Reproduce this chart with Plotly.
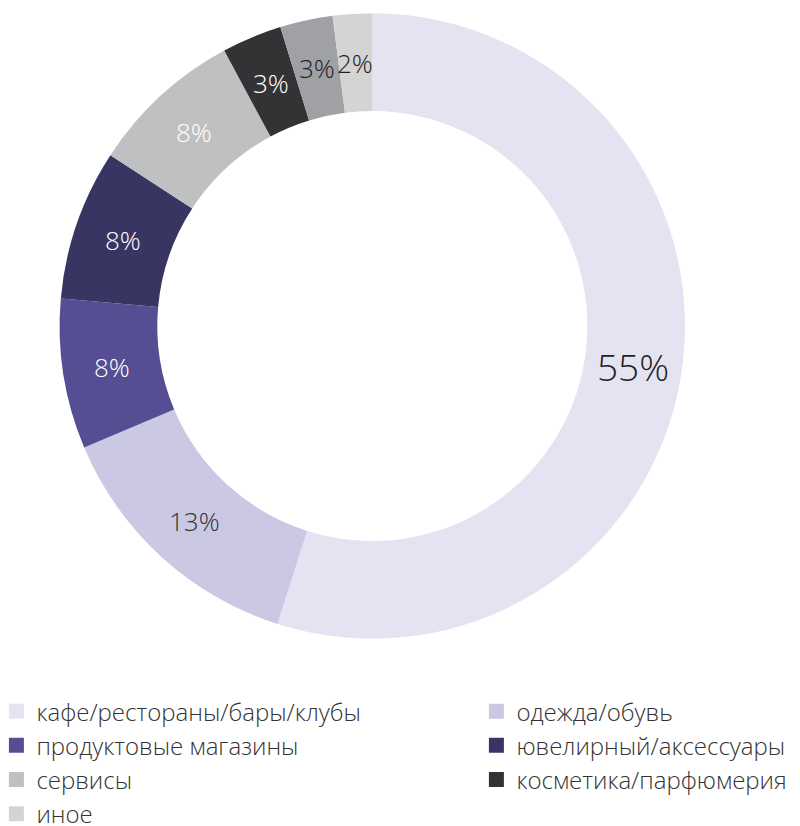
import math
import plotly.graph_objects as go

slice_labels = ["кафе/рестораны/бары/клубы", "одежда/обувь", "продуктовые магазины",
                "ювелирный/аксессуары", "сервисы", "косметика/парфюмерия", "прочее", "иное"]
slice_values = [54.9, 13.75, 7.75, 7.8, 7.95, 3.1, 2.72, 2.03]
slice_text = ["55%", "13%", "8%", "8%", "8%", "3%", "3%", "2%"]
slice_colors = ["#e4e3f1", "#cbc8e4", "#554e93", "#383563", "#bfc0c2", "#333335", "#9fa1a5", "#d3d4d3"]
text_colors = ["#222222", "#333333", "#ffffff", "#ffffff", "#ffffff", "#ffffff", "#222222", "#222222"]
text_sizes = [37, 26, 26, 26, 26, 26, 26, 26]

# legend entries (the unlabeled gray slice is not listed)
legend_left = [0, 2, 4, 7]
legend_right = [1, 3, 5]

FONT = "Open Sans"
W, H = 800, 826
CX, CY, R, HOLE = 372.3, 326.0, 312.7, 0.6876   # donut geometry in pixels

fig = go.Figure()
fig.add_trace(go.Pie(
    labels=slice_labels,
    values=slice_values,
    textinfo="none",
    marker=dict(colors=slice_colors, line=dict(width=0)),
    hole=HOLE,
    sort=False,
    direction="clockwise",
    rotation=0,
    showlegend=False,
    domain=dict(x=[(CX - R) / W, (CX + R) / W], y=[1 - (CY + R) / H, 1 - (CY - R) / H]),
    hoverinfo="label+percent",
))

# slice labels at the middle of the ring, on each slice's bisector
total = sum(slice_values)
r_mid = R * (1 + HOLE) / 2
anns = []
cum = 0
for v, t, c, s in zip(slice_values, slice_text, text_colors, text_sizes):
    theta = 2 * math.pi * (cum + v / 2) / total
    cum += v
    anns.append(dict(
        xref="paper", yref="paper",
        x=(CX + r_mid * math.sin(theta)) / W,
        y=1 - (CY - r_mid * math.cos(theta)) / H,
        xanchor="center", yanchor="middle", showarrow=False, text=t,
        font=dict(family=FONT, size=s, color=c, weight=300),
    ))

for legname, idxs in (("legend", legend_left), ("legend2", legend_right)):
    for i in idxs:
        fig.add_trace(go.Scatter(
            x=[None], y=[None], mode="markers", name=slice_labels[i],
            marker=dict(symbol="square", size=15, color=slice_colors[i]),
            legend=legname, showlegend=True, hoverinfo="skip",
        ))

legend_common = dict(
    orientation="v", yanchor="top", xanchor="left",
    font=dict(family=FONT, size=24, color="#333333", weight=300),
    bgcolor="rgba(0,0,0,0)", borderwidth=0, itemclick=False, itemdoubleclick=False,
    tracegroupgap=0,
)
fig.update_layout(
    width=W, height=H,
    margin=dict(l=0, r=0, t=0, b=0, autoexpand=False),
    paper_bgcolor="white", plot_bgcolor="white",
    xaxis=dict(visible=False), yaxis=dict(visible=False),
    legend=dict(x=-0.0045, y=0.1658, **legend_common),
    legend2=dict(x=0.5955, y=0.1658, **legend_common),
    annotations=anns,
    font=dict(family=FONT, weight=300),
)

fig.write_html("out.html")
